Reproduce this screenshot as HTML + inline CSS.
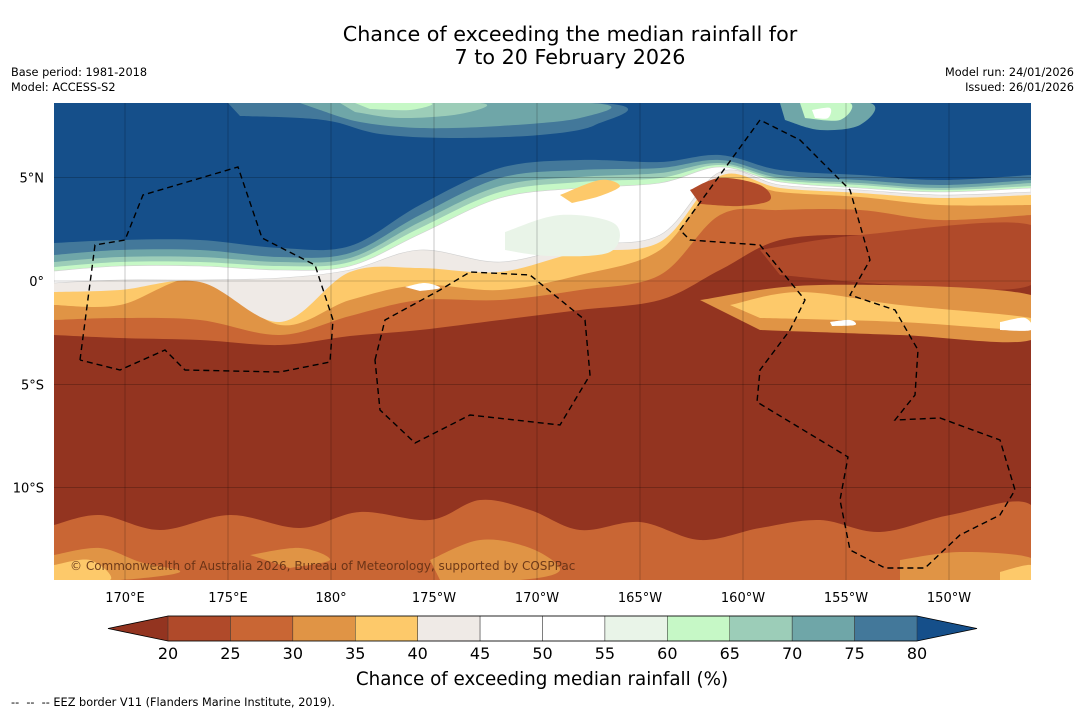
<!DOCTYPE html>
<html><head><meta charset="utf-8"><style>
body{margin:0;background:#fff;width:1085px;height:713px;overflow:hidden;font-family:"Liberation Sans","DejaVu Sans",sans-serif}
svg text{font-family:"DejaVu Sans","Liberation Sans",sans-serif}
</style></head><body>
<svg id="chart" width="1085" height="713" xmlns="http://www.w3.org/2000/svg">
<text x="570" y="41" font-size="20.7" text-anchor="middle">Chance of exceeding the median rainfall for</text>
<text x="570" y="64" font-size="20.7" text-anchor="middle">7 to 20 February 2026</text>
<text x="11" y="76" font-size="11.3">Base period: 1981-2018</text>
<text x="11" y="91" font-size="11.3">Model: ACCESS-S2</text>
<text x="1074" y="76" font-size="11.3" text-anchor="end">Model run: 24/01/2026</text>
<text x="1074" y="91" font-size="11.3" text-anchor="end">Issued: 26/01/2026</text>
<defs><clipPath id="mapclip"><rect x="54" y="103" width="977" height="477"/></clipPath></defs>
<g id="map" clip-path="url(#mapclip)"></g>
<g id="axes"></g>
<g id="cbar"></g>
<text x="542" y="685" font-size="18.3" text-anchor="middle">Chance of exceeding median rainfall (%)</text>
<text x="11" y="706" font-size="11.3" xml:space="preserve">--  --  -- EEZ border V11 (Flanders Marine Institute, 2019).</text>
</svg>
<script>
const NS="http://www.w3.org/2000/svg";
const levels=[20,25,30,35,40,45,50,55,60,65,70,75,80];
const colors=["#b04a2a","#c96634","#e09445","#fdc96a","#efeae6","#ffffff","#ffffff","#e9f4e8","#c6f8c6","#9ccdb8","#6fa6a8","#43789a"];
const underColor="#933420", overColor="#154f8a";
const lonTicks=["170°E","175°E","180°","175°W","170°W","165°W","160°W","155°W","150°W"];
const lonVals=[170,175,180,185,190,195,200,205,210];
const latTicks=["5°N","0°","5°S","10°S"];
const latVals=[5,0,-5,-10];
const bx=[54,120,200,280,350,420,500,580,660,720,780,860,940,1031];
const bLevels=[25,30,35,40,45,60,65,70,75,80];
const bY=[
[335,338,340,345,336,330,320,310,300,270,240,235,240,240],
[320,318,320,335,316,300,300,290,275,215,210,210,220,215],
[305,305,278,325,300,285,290,275,250,182,192,197,205,205],
[292,290,282,322,272,268,272,252,242,176,188,193,198,195],
[283,280,280,278,270,250,262,245,235,172,185,190,195,192],
[271,266,266,270,266,234,198,188,183,167,182,188,192,188],
[267,262,262,266,262,228,192,182,178,165,180,185,190,186],
[262,257,257,262,258,222,186,177,173,163,178,183,188,183],
[255,250,250,257,253,215,178,170,168,160,175,180,185,180],
[243,240,240,248,246,205,168,160,162,155,170,175,180,175]];
function lonX(l){return 125+(l-170)*20.6;}
function latY(l){return 281-l*20.67;}
function colorFor(v){if(v<levels[0])return underColor;if(v>=levels[levels.length-1])return overColor;for(let i=0;i<levels.length-1;i++)if(v<levels[i+1])return colors[i];}
function el(t,a,p){const e=document.createElementNS(NS,t);for(const k in a)e.setAttribute(k,a[k]);p.appendChild(e);return e;}
function smooth(pts){let d=`M${pts[0][0]},${pts[0][1]}`;for(let i=0;i<pts.length-1;i++){const p0=pts[Math.max(0,i-1)],p1=pts[i],p2=pts[i+1],p3=pts[Math.min(pts.length-1,i+2)];d+=` C${p1[0]+(p2[0]-p0[0])/6},${p1[1]+(p2[1]-p0[1])/6} ${p2[0]-(p3[0]-p1[0])/6},${p2[1]-(p3[1]-p1[1])/6} ${p2[0]},${p2[1]}`;}return d;}
const map=document.getElementById('map');
let bg=el('rect',{x:54,y:103,width:977,height:477,fill:underColor},map);

const patches=[
[25,[[54,525],[100,515],[160,530],[230,515],[300,528],[360,512],[430,520],[480,500],[530,510],[580,530],[640,522],[700,540],[760,528],[820,520],[880,532],[950,515],[1031,505],[1031,580],[54,580]]],
[30,[[54,555],[100,548],[140,562],[180,572],[120,580],[54,580]]],
[30,[[430,560],[480,540],[530,548],[560,570],[520,580],[440,580]]],
[30,[[900,560],[960,552],[1031,558],[1031,580],[900,580]]],
[30,[[250,555],[300,548],[330,560],[290,568]]],
[35,[[54,565],[90,560],[110,580],[54,580]]],
[35,[[1000,572],[1031,565],[1031,580],[1000,580]]]];
patches.forEach(p=>{const e=el('path',{d:smooth(p[1])+'Z',fill:colorFor(p[0])},map);});
bLevels.forEach((lv,i)=>{const pts=bx.map((x,j)=>[x,bY[i][j]]);const d=`M54,103 L54,${pts[0][1]} `+smooth(pts).replace(/^M[^ ]+/,'')+` L1031,103 Z`;
const e=el('path',{d:d,fill:colorFor(lv),stroke:lv>=45&&lv<=60?'#cfcfcf':'none','stroke-width':0.6},map);
});
const islands=[
[60,[[520,232],[560,222],[600,228],[598,244],[550,248],[520,244]]],
[55,[[505,232],[560,215],[615,224],[610,252],[550,256],[505,250]]],
[35,[[560,195],[600,180],[620,186],[600,196],[572,203]]],
[20,[[690,190],[720,178],[760,185],[770,200],[740,206],[700,204]]],
[20,[[760,250],[860,235],[1031,225],[1031,285],[900,285],[780,275]]],
[30,[[700,300],[820,285],[1031,295],[1031,340],[900,335],[760,330]]],
[35,[[730,305],[800,292],[900,305],[1031,318],[1031,330],[900,322],[760,318]]],
[45,[[405,287],[425,283],[440,288],[420,291]]],
[45,[[830,322],[850,320],[855,325],[832,326]]],
[45,[[1000,322],[1025,318],[1031,330],[1000,330]]],
[75,[[228,103],[600,103],[595,125],[540,135],[450,138],[380,134],[335,122],[300,118],[240,116]]],
[70,[[300,103],[590,103],[580,118],[500,126],[420,128],[360,122],[320,110]]],
[65,[[340,103],[480,103],[460,114],[400,118],[355,112]]],
[60,[[355,103],[430,103],[410,110],[370,109]]],
[70,[[780,103],[870,103],[860,125],[820,130],[785,120]]],
[60,[[800,103],[850,103],[840,120],[805,118]]],
[45,[[812,110],[830,108],[828,118],[815,118]]]];
islands.forEach(p=>{const e=el('path',{d:smooth(p[1])+'Z',fill:colorFor(p[0])},map);});
lonVals.forEach(v=>{const g=el('line',{x1:lonX(v),x2:lonX(v),y1:103,y2:580,stroke:'#000','stroke-opacity':0.35,'stroke-width':0.6},map);});
latVals.forEach(v=>{const g=el('line',{x1:54,x2:1031,y1:latY(v),y2:latY(v),stroke:'#000','stroke-opacity':0.35,'stroke-width':0.6},map);});
const eez=[
"M80,360 L95,245 L125,240 L143,195 L238,167 L262,238 L315,265 L333,320 L330,362 L280,372 L185,370 L165,350 L120,370 L80,360",
"M375,360 L385,320 L440,290 L470,272 L530,275 L585,320 L590,375 L560,425 L470,415 L415,443 L380,410 Z",
"M680,230 L720,175 L760,120 L800,140 L850,190 L870,260 L850,295 L895,310 L918,350 L915,395 L895,420 L940,418 L1000,440 L1015,490 L1000,515 L960,535 L925,568 L885,568 L850,550 L840,500 L848,457 L757,402 L760,370 L790,330 L805,300 L760,245 L690,240 Z"];
eez.forEach(d=>{const e=el('path',{d:d,fill:'none',stroke:'#000','stroke-width':1.4,'stroke-dasharray':'6,4'},map);});
const wm=el('text',{x:70,y:570,'font-size':12,fill:'#5a2a12','fill-opacity':0.85},map);wm.textContent='© Commonwealth of Australia 2026, Bureau of Meteorology, supported by COSPPac';

const ax=document.getElementById('axes');
lonTicks.forEach((t,i)=>{const e=el('text',{x:lonX(lonVals[i]),y:602,'font-size':13,'text-anchor':'middle'},ax);e.textContent=t;});
latTicks.forEach((t,i)=>{const e=el('text',{x:44,y:latY(latVals[i])+5,'font-size':13,'text-anchor':'end'},ax);e.textContent=t;});
const cb=document.getElementById('cbar');
const cx0=168,cx1=917,cy=616,ch=25;
function cbX(v){return cx0+(v-levels[0])/(levels[levels.length-1]-levels[0])*(cx1-cx0);}
let a1=el('polygon',{points:`108,${cy+ch/2} ${cx0},${cy} ${cx0},${cy+ch}`,fill:underColor},cb);
let a2=el('polygon',{points:`977,${cy+ch/2} ${cx1},${cy} ${cx1},${cy+ch}`,fill:overColor},cb);
colors.forEach((c,i)=>{const r=el('rect',{x:cbX(levels[i]),y:cy,width:cbX(levels[i+1])-cbX(levels[i]),height:ch,fill:c,stroke:'#333','stroke-width':0.5},cb);});
let ol=el('polygon',{points:`108,${cy+ch/2} ${cx0},${cy} ${cx1},${cy} 977,${cy+ch/2} ${cx1},${cy+ch} ${cx0},${cy+ch}`,fill:'none',stroke:'#000','stroke-width':0.8},cb);
levels.forEach(v=>{const t=el('text',{x:cbX(v),y:659,'font-size':16,'text-anchor':'middle'},cb);t.textContent=v;});
</script>
</body></html>
